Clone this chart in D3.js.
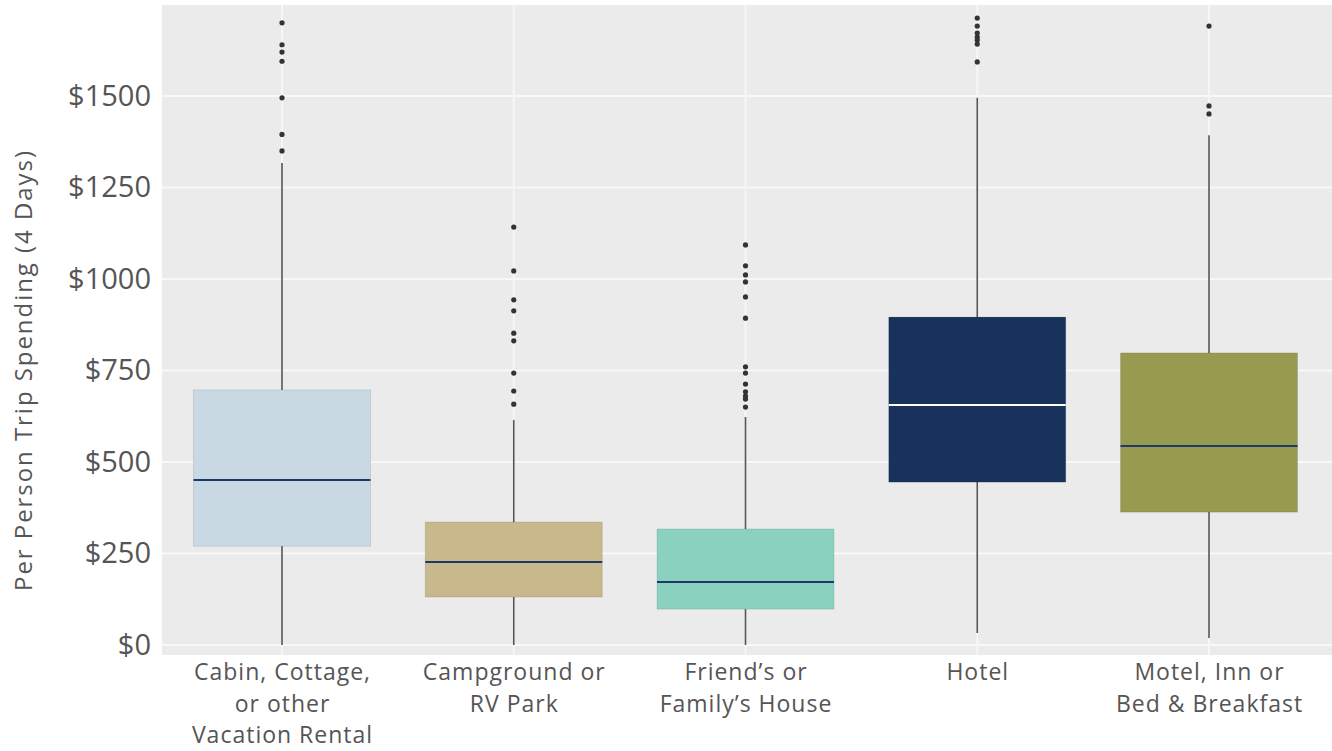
<!DOCTYPE html>
<html>
<head>
<meta charset="utf-8">
<script src="https://cdn.jsdelivr.net/npm/d3@7"></script>
<style>
  body { margin: 0; background: #fff; }
  svg { display: block; }
  .tick text { font-family: "Open Sans", sans-serif; fill: #555; }
</style>
</head>
<body>
<div id="chart"></div>
<script>
// per person trip spending (4 days) by lodging type
const categories = ["Cabin", "Campground", "Friends", "Hotel", "Motel"];
const labelLines = [
  ["Cabin, Cottage,", "or other", "Vacation Rental"],
  ["Campground or", "RV Park"],
  ["Friend’s or", "Family’s House"],
  ["Hotel"],
  ["Motel, Inn or", "Bed & Breakfast"]
];
const whiskerLow  = [0, 0, 0, 33, 19];
const q1          = [270, 131, 98, 445, 363];
const median      = [451, 227, 172, 656, 544];
const q3          = [697, 336, 317, 896, 798];
const whiskerHigh = [1317, 615, 623, 1495, 1393];
const outliers = [
  [1700, 1640, 1620, 1595, 1495, 1395, 1350],
  [1142, 1022, 943, 913, 852, 831, 743, 694, 658],
  [1093, 1036, 1011, 992, 951, 893, 760, 743, 713, 692, 680, 672, 650],
  [1713, 1691, 1672, 1661, 1653, 1642, 1593],
  [1691, 1473, 1451]
];
const boxColors    = ["#c9d9e3", "#c8b88c", "#8ad1bf", "#19325c", "#989a50"];
const medianColors = ["#1b3a6b", "#1b3a6b", "#1b3a6b", "#ffffff", "#1b3a6b"];
const yTicks = [0, 250, 500, 750, 1000, 1250, 1500];

const width = 1332, height = 751;
const panel = { left: 162, right: 1332, top: 5, bottom: 655 };

const svg = d3.select("#chart").append("svg")
  .attr("width", width)
  .attr("height", height);

const x = d3.scalePoint().domain(categories).range([282, 1209]);
const y = d3.scaleLinear().domain([0, 1500]).range([645, 96]);
const boxW = 177;

// panel background
svg.append("rect")
  .attr("x", panel.left).attr("y", panel.top)
  .attr("width", panel.right - panel.left)
  .attr("height", panel.bottom - panel.top)
  .attr("fill", "#ebebeb");

// grid
svg.append("g").selectAll("line.h").data(yTicks).join("line")
  .attr("x1", panel.left).attr("x2", panel.right)
  .attr("y1", d => y(d)).attr("y2", d => y(d))
  .attr("stroke", "#f8f8f8").attr("stroke-width", 2);
svg.append("g").selectAll("line.v").data(categories).join("line")
  .attr("y1", panel.top).attr("y2", panel.bottom)
  .attr("x1", d => x(d)).attr("x2", d => x(d))
  .attr("stroke", "#f6f6f6").attr("stroke-width", 2);

const boxes = svg.append("g").selectAll("g").data(categories).join("g");

// whiskers
boxes.append("line")
  .attr("x1", d => x(d)).attr("x2", d => x(d))
  .attr("y1", (d, i) => y(whiskerLow[i]))
  .attr("y2", (d, i) => y(whiskerHigh[i]))
  .attr("stroke", "#555").attr("stroke-width", 1.6);

// boxes
boxes.append("rect")
  .attr("x", d => x(d) - boxW / 2)
  .attr("width", boxW)
  .attr("y", (d, i) => y(q3[i]))
  .attr("height", (d, i) => y(q1[i]) - y(q3[i]))
  .attr("fill", (d, i) => boxColors[i])
  .attr("stroke", "rgba(0,0,0,0.1)")
  .attr("stroke-width", 1);

// medians
boxes.append("line")
  .attr("x1", d => x(d) - boxW / 2).attr("x2", d => x(d) + boxW / 2)
  .attr("y1", (d, i) => y(median[i])).attr("y2", (d, i) => y(median[i]))
  .attr("stroke", (d, i) => medianColors[i]).attr("stroke-width", 2);

// outliers
boxes.each(function(d, i) {
  d3.select(this).selectAll("circle").data(outliers[i]).join("circle")
    .attr("cx", x(d))
    .attr("cy", v => y(v))
    .attr("r", 2.6)
    .attr("fill", "#333");
});

// y axis
const yAxis = svg.append("g")
  .attr("transform", `translate(${panel.left},0)`)
  .call(d3.axisLeft(y).tickValues(yTicks).tickFormat(d => "$" + d).tickSize(0).tickPadding(11));
yAxis.select(".domain").remove();
yAxis.selectAll("text").attr("font-size", 29);

// x axis
const xAxis = svg.append("g")
  .attr("transform", `translate(0,${panel.bottom})`)
  .call(d3.axisBottom(x).tickSize(0).tickPadding(0));
xAxis.select(".domain").remove();
xAxis.selectAll("text")
  .attr("font-size", 23)
  .attr("letter-spacing", 1)
  .attr("dy", null)
  .attr("y", 0)
  .text(null)
  .each(function(d, i) {
    const t = d3.select(this);
    labelLines[i].forEach((line, k) => {
      t.append("tspan")
        .attr("x", 0)
        .attr("y", 25 + k * 31.5)
        .text(line);
    });
  });

// y axis title
svg.append("text")
  .attr("transform", "translate(32,371) rotate(-90)")
  .attr("text-anchor", "middle")
  .attr("font-family", "Open Sans, sans-serif")
  .attr("font-size", 24)
  .attr("fill", "#555")
  .attr("textLength", 440)
  .text("Per Person Trip Spending (4 Days)");
</script>
</body>
</html>
